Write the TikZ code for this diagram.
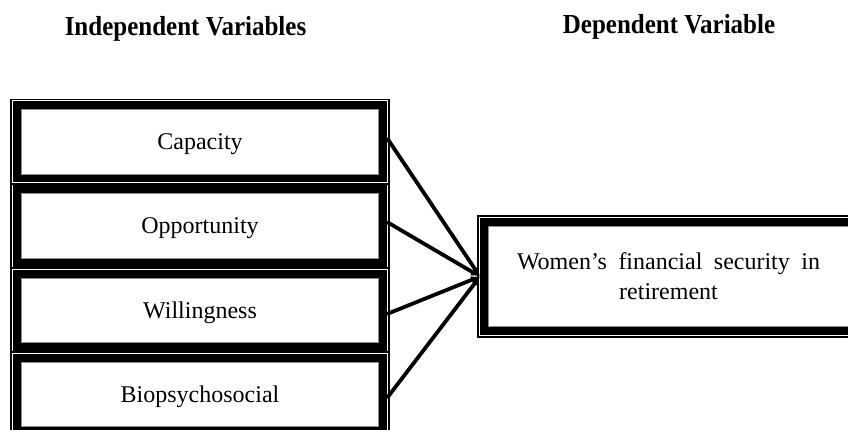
\documentclass[tikz,border=0pt]{standalone}
\usepackage{fontspec}
\setmainfont{Liberation Serif}
\usetikzlibrary{arrows.meta,calc}
\tikzset{
  varbox/.style={draw=black, line width=8pt, inner sep=0pt, align=center,
    font=\fontsize{24}{30}\selectfont},
  onerow/.style={text height=16pt, text depth=0pt},
  outerline/.style={draw=black, line width=1.3pt},
  innerline/.style={draw=black!45, line width=0.6pt},
  heading/.style={font=\fontsize{25}{30}\selectfont\bfseries, anchor=base, inner sep=0pt},
  conn/.style={line width=3.8pt, -{Latex[length=9pt,width=8pt]}},
}
\begin{document}
\begin{tikzpicture}[x=1pt,y=-1pt]
\useasboundingbox[fill=white] (0,0) rectangle (848,430);

\node[heading] (hind) at (185.5,36) {\scalebox{1}[1.1]{Independent Variables}};
\node[heading] (hdep) at (669,34) {\scalebox{1}[1.1]{Dependent Variable}};

\node[varbox, onerow, minimum width=366pt, minimum height=73pt] (cap) at (200,142) {Capacity};
\node[varbox, onerow, minimum width=366pt, minimum height=73pt] (opp) at (200,226) {Opportunity};
\node[varbox, onerow, minimum width=366pt, minimum height=73pt] (wil) at (200,310) {Willingness};
\node[varbox, onerow, minimum width=366pt, minimum height=73pt] (bio) at (200,394) {Biopsychosocial};

\node[varbox, minimum width=369pt, minimum height=109pt] (dep) at (668.5,276.5)
  {\makebox[303pt][s]{Women’s financial security in}\\retirement};

\foreach \n in {cap,opp,wil,bio,dep}{
  \draw[outerline] ($(\n.north west)+(-2,-2)$) rectangle ($(\n.south east)+(2,2)$);
  \draw[innerline] ($(\n.north west)+(8.3,8.3)$) rectangle ($(\n.south east)+(-8.3,-8.3)$);
}

\draw[conn] ([yshift=4pt]cap.east) -- (dep.west);
\draw[conn] ([yshift=4pt]opp.east) -- (dep.west);
\draw[conn] ([yshift=-4pt]wil.east) -- (dep.west);
\draw[conn] ([yshift=-4pt]bio.east) -- (dep.west);
\end{tikzpicture}
\end{document}
